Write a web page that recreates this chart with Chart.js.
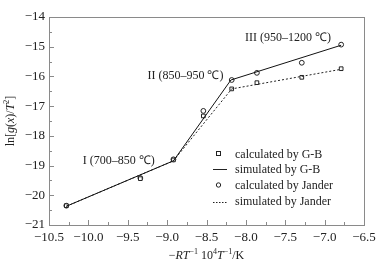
<!DOCTYPE html>
<html>
<head>
<meta charset="utf-8">
<script src="https://cdn.jsdelivr.net/npm/chart.js@4/dist/chart.umd.min.js"></script>
<style>
    html, body { margin: 0; padding: 0; background: #fff; }
    #wrap { width: 387px; height: 265px; position: relative; }
</style>
</head>
<body>
<div id="wrap"><canvas id="chart"></canvas></div>
<script>
// Data
const xValues = [-10.28, -9.34, -8.92, -8.54, -8.18, -7.86, -7.29, -6.79];
const gbCalculated = [-20.35, -19.44, -18.81, -17.33, -16.42, -16.21, -16.03, -15.74];
const janderCalculated = [-20.35, -19.42, -18.79, -17.16, -16.12, -15.88, -15.54, -14.93];

// Fitted line vertices (piecewise, three regions)
const gbSimX = [-10.28, -8.92, -8.19, -6.79];
const gbSimY = [-20.37, -18.84, -16.12, -14.95];
const janderSimX = [-10.28, -8.92, -8.18, -6.79];
const janderSimY = [-20.37, -18.84, -16.42, -15.76];

const legendLabels = ['calculated by G-B', 'simulated by G-B', 'calculated by Jander', 'simulated by Jander'];

// Region labels: text and the data position of their left/baseline
const regionLabels = ['I (700\u2013850 \u2103)', 'II (850\u2013950 \u2103)', 'III (950\u20131200 \u2103)'];
const regionX = [-10.07, -9.25, -8.01];
const regionY = [-18.95, -16.07, -14.8];

const SERIF = '"Liberation Serif", "Times New Roman", serif';
const AXIS_COLOR = '#8a8a8a';
const TEXT_COLOR = '#222';

function toPoints(xs, ys) {
    return xs.map((x, i) => ({ x: x, y: ys[i] }));
}

function minus(v) {
    return String(v).replace('-', '\u2212');
}

// Draw a run of text pieces with their own fonts; returns width
function drawRuns(ctx, runs, x, y, measureOnly) {
    let cx = x;
    runs.forEach(r => {
        ctx.font = r.font;
        if (!measureOnly) ctx.fillText(r.t, cx, y + (r.dy || 0));
        cx += ctx.measureText(r.t).width;
    });
    return cx - x;
}

// Frame, inward ticks, titles, region labels and legend
const decorPlugin = {
    id: 'decor',
    afterDatasetsDraw(chart) {
        const ctx = chart.ctx;
        const area = chart.chartArea;
        const xs = chart.scales.x;
        const ys = chart.scales.y;
        ctx.save();

        // frame
        ctx.strokeStyle = AXIS_COLOR;
        ctx.lineWidth = 1;
        ctx.strokeRect(Math.round(area.left) + 0.5, Math.round(area.top) + 0.5,
            Math.round(area.right - area.left), Math.round(area.bottom - area.top));

        // bottom ticks (major 0.5, minor 0.25)
        ctx.beginPath();
        for (let v = -10.5; v <= -6.5 + 1e-9; v += 0.25) {
            const px = Math.round(xs.getPixelForValue(v)) + 0.5;
            const major = Math.abs(v * 2 - Math.round(v * 2)) < 1e-6;
            const len = major ? 5 : 3;
            ctx.moveTo(px, area.bottom);
            ctx.lineTo(px, area.bottom - len);
        }
        // left ticks (major 1, minor 0.5)
        for (let v = -21; v <= -14 + 1e-9; v += 0.5) {
            const py = Math.round(ys.getPixelForValue(v)) + 0.5;
            const major = Math.abs(v - Math.round(v)) < 1e-6;
            const len = major ? 5 : 3;
            ctx.moveTo(area.left, py);
            ctx.lineTo(area.left + len, py);
        }
        ctx.stroke();

        ctx.fillStyle = TEXT_COLOR;
        ctx.textBaseline = 'alphabetic';
        ctx.textAlign = 'left';

        // region labels
        ctx.font = '12px ' + SERIF;
        regionLabels.forEach((t, i) => {
            ctx.fillText(t, xs.getPixelForValue(regionX[i]), ys.getPixelForValue(regionY[i]));
        });

        // x title: −RT⁻¹ 10⁴T⁻¹/K
        const f = '12px ' + SERIF;
        const fi = 'italic 12px ' + SERIF;
        const fs = '8px ' + SERIF;
        const xRuns = [
            { t: '\u2212', font: f }, { t: 'RT', font: fi }, { t: '\u22121', font: fs, dy: -5 },
            { t: ' 10', font: f }, { t: '4', font: fs, dy: -5 }, { t: 'T', font: fi },
            { t: '\u22121', font: fs, dy: -5 }, { t: '/K', font: f }
        ];
        const w = drawRuns(ctx, xRuns, 0, 0, true);
        drawRuns(ctx, xRuns, (area.left + area.right) / 2 - w / 2, 259, false);

        // y title: ln[g(x)/T²]
        const yRuns = [
            { t: 'ln[', font: f }, { t: 'g', font: fi }, { t: '(', font: f }, { t: 'x', font: fi },
            { t: ')/', font: f }, { t: 'T', font: fi }, { t: '2', font: fs, dy: -5 }, { t: ']', font: f }
        ];
        const wy = drawRuns(ctx, yRuns, 0, 0, true);
        ctx.save();
        ctx.translate(14, (area.top + area.bottom) / 2);
        ctx.rotate(-Math.PI / 2);
        drawRuns(ctx, yRuns, -wy / 2, 0, false);
        ctx.restore();

        // legend
        const lx = 213, tx = 235;
        const rows = [154, 169, 185, 201];
        ctx.font = '12px ' + SERIF;
        legendLabels.forEach((t, i) => {
            ctx.fillStyle = TEXT_COLOR;
            ctx.fillText(t, tx, rows[i] + 4);
        });
        ctx.strokeStyle = '#222';
        ctx.lineWidth = 1;
        ctx.fillStyle = '#fff';
        ctx.strokeRect(216.5, rows[0] - 2.5, 4, 4);
        ctx.beginPath();
        ctx.moveTo(213, rows[1] + 0.5);
        ctx.lineTo(227, rows[1] + 0.5);
        ctx.stroke();
        ctx.beginPath();
        ctx.arc(218.5, rows[2], 2.2, 0, Math.PI * 2);
        ctx.stroke();
        ctx.setLineDash([1.5, 1.5]);
        ctx.beginPath();
        ctx.moveTo(lx, rows[3] + 1.5);
        ctx.lineTo(227, rows[3] + 1.5);
        ctx.stroke();

        ctx.restore();
    }
};

new Chart(document.getElementById('chart'), {
    type: 'scatter',
    data: {
        datasets: [
            {
                label: 'simulated by G-B',
                data: toPoints(gbSimX, gbSimY),
                showLine: true,
                borderColor: '#111',
                borderWidth: 1,
                pointRadius: 0,
                fill: false
            },
            {
                label: 'simulated by Jander',
                data: toPoints(janderSimX, janderSimY),
                showLine: true,
                borderColor: '#222',
                borderWidth: 1,
                borderDash: [2, 2],
                pointRadius: 0,
                fill: false
            },
            {
                label: 'calculated by G-B',
                data: toPoints(xValues, gbCalculated),
                pointStyle: 'rect',
                pointRadius: 2.6,
                borderColor: '#222',
                backgroundColor: '#fff',
                borderWidth: 1
            },
            {
                label: 'calculated by Jander',
                data: toPoints(xValues, janderCalculated),
                pointStyle: 'circle',
                pointRadius: 2.4,
                borderColor: '#222',
                backgroundColor: 'rgba(255,255,255,0)',
                borderWidth: 1
            }
        ]
    },
    options: {
        responsive: true,
        maintainAspectRatio: false,
        animation: false,
        layout: {
            padding: { top: 17, right: 23, left: 0, bottom: 0 }
        },
        plugins: {
            legend: { display: false },
            tooltip: { enabled: false }
        },
        scales: {
            x: {
                type: 'linear',
                min: -10.5,
                max: -6.5,
                grid: { display: false, drawTicks: false },
                border: { display: false },
                ticks: {
                    stepSize: 0.5,
                    padding: 5,
                    color: TEXT_COLOR,
                    font: { family: SERIF, size: 13 },
                    callback: function(value) {
                        return minus(value.toFixed(1));
                    }
                },
                afterFit: function(scale) {
                    scale.height = 40;
                }
            },
            y: {
                type: 'linear',
                min: -21,
                max: -14,
                grid: { display: false, drawTicks: false },
                border: { display: false },
                ticks: {
                    stepSize: 1,
                    padding: 4,
                    color: TEXT_COLOR,
                    font: { family: SERIF, size: 13 },
                    callback: function(value) {
                        return minus(value);
                    }
                },
                afterFit: function(scale) {
                    scale.width = 49;
                }
            }
        }
    },
    plugins: [decorPlugin]
});
</script>
</body>
</html>
